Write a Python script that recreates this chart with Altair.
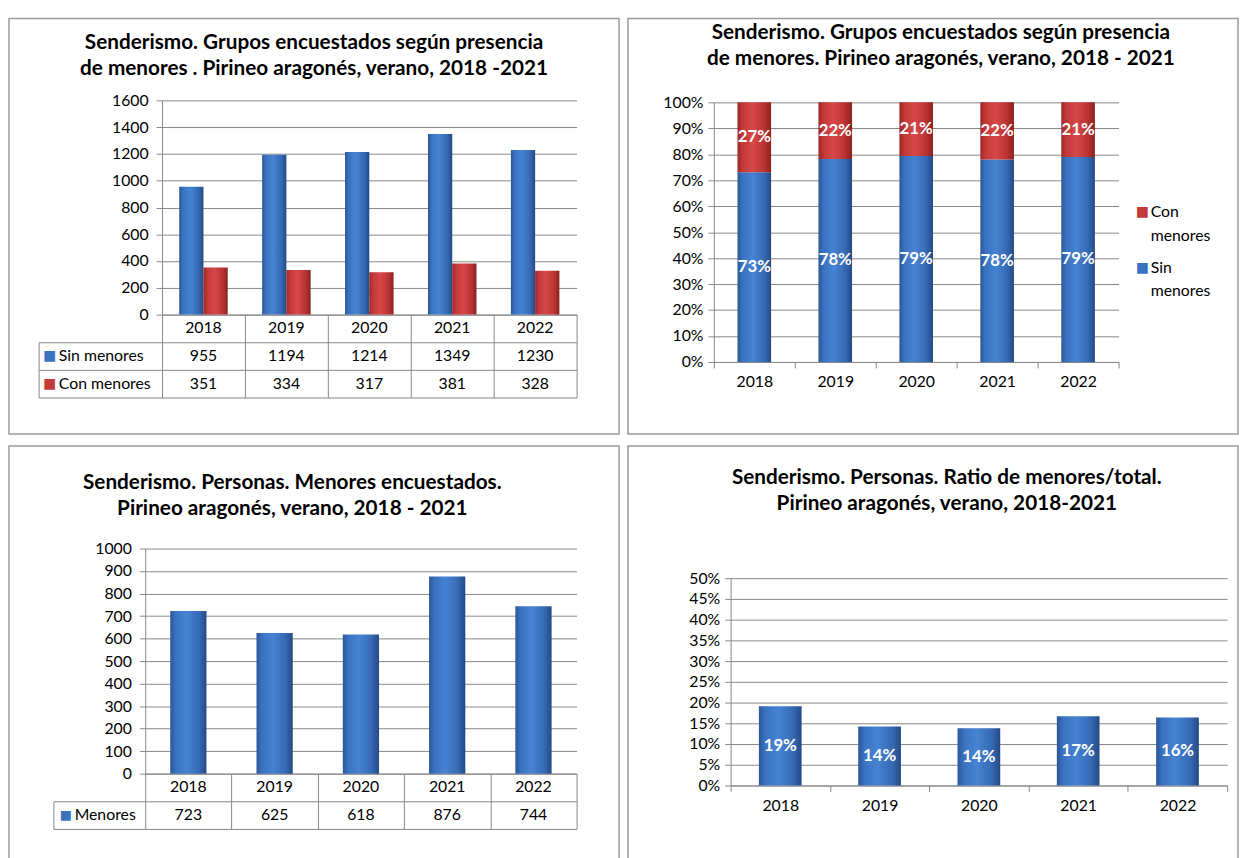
import altair as alt
import pandas as pd

# ---------------- data ----------------
years = ["2018", "2019", "2020", "2021", "2022"]
sin_menores = [955, 1194, 1214, 1349, 1230]
con_menores = [351, 334, 317, 381, 328]
menores = [723, 625, 618, 876, 744]
ratio_menores = [0.191, 0.142, 0.138, 0.167, 0.164]
series_names = ["Sin menores", "Con menores"]
legend_order = ["Con menores", "Sin menores"]
serie_menores = ["Menores"]

titulo1 = ["Senderismo. Grupos encuestados según presencia",
           "de menores . Pirineo aragonés, verano, 2018  -2021"]
titulo2 = ["Senderismo. Grupos encuestados según presencia",
           "de menores. Pirineo aragonés, verano, 2018  - 2021"]
titulo3 = ["Senderismo. Personas. Menores encuestados.",
           "Pirineo aragonés, verano, 2018  - 2021"]
titulo4 = ["Senderismo. Personas. Ratio de menores/total.",
           "Pirineo aragonés, verano, 2018-2021"]

# ---------------- style ----------------
FONT = "Lato"
GRID = "#868686"
BLUE = "#3a72c0"
RED = "#c43a3a"
W, H = 618, 421
LFS = 16  # label font size


def grad(stops):
    return alt.LinearGradient(
        gradient="linear", x1=0, x2=1, y1=0, y2=0,
        stops=[alt.GradientStop(offset=o, color=c) for o, c in stops])


BLUE_GRAD = grad([(0, "#2b5797"), (0.15, "#3a72c0"), (0.45, "#4683d3"),
                  (0.8, "#3669b3"), (1, "#244a85")])
RED_GRAD = grad([(0, "#9c2626"), (0.15, "#c23838"), (0.45, "#d84848"),
                 (0.8, "#b83232"), (1, "#8c2020")])

grupos = pd.DataFrame({
    "year": years * 2,
    "serie": [series_names[0]] * len(years) + [series_names[1]] * len(years),
    "value": sin_menores + con_menores,
    "orden": [0] * len(years) + [1] * len(years),
})
personas = pd.DataFrame({"year": years, "serie": serie_menores * len(years), "value": menores})
ratio = pd.DataFrame({"year": years, "value": ratio_menores})


def title(lines, offset, dx=0):
    return alt.TitleParams(text=lines, offset=offset, dx=dx, anchor="middle",
                           baseline="top", frame="group", font=FONT,
                           fontSize=21, fontWeight="bold", color="black",
                           lineHeight=26)


def xs(r):
    return alt.Scale(type="band", domain=years, range=r, paddingInner=0, paddingOuter=0)


# ============ Panel 1 ============
x1 = xs([155, 575])
y1 = alt.Scale(domain=[0, 1600], range=[300, 83], nice=False)
rows1 = alt.Scale(type="band", domain=series_names, range=[328, 384], paddingInner=0, paddingOuter=0)
xoff1 = alt.Scale(domain=series_names, paddingInner=0, paddingOuter=0.71)
b1 = alt.Chart(grupos)

p1_sin = b1.transform_filter(alt.datum.serie == series_names[0]).mark_bar(color=BLUE_GRAD).encode(
    x=alt.X("year:N", scale=x1, axis=alt.Axis(orient="bottom", offset=300 - H, title=None, labels=False,
                                               domainColor=GRID, tickColor=GRID, tickBand="extent",
                                               tickSize=84, grid=False)),
    xOffset=alt.XOffset("serie:N", scale=xoff1),
    y=alt.Y("value:Q", scale=y1, axis=alt.Axis(orient="left", offset=-155, title=None, format="d",
                                                values=list(range(0, 1601, 200)), grid=True,
                                                gridColor=GRID, domainColor=GRID, tickColor=GRID,
                                                tickSize=6, labelPadding=8, labelOverlap=False)),
)
p1_con = b1.transform_filter(alt.datum.serie == series_names[1]).mark_bar(color=RED_GRAD).encode(
    x=alt.X("year:N", scale=x1, axis=None),
    xOffset=alt.XOffset("serie:N", scale=xoff1),
    y=alt.Y("value:Q", scale=y1, axis=None),
)
p1_tab = b1.mark_text(fontSize=LFS, color="black", font=FONT).encode(
    x=alt.X("year:N", scale=x1, axis=alt.Axis(orient="bottom", offset=300 - H, title=None, ticks=False,
                                               domain=False, grid=False, labelPadding=5, labelAngle=0)),
    y=alt.Y("serie:N", scale=rows1, axis=alt.Axis(orient="left", offset=-155, title=None, labels=False,
                                                   domain=False, tickBand="extent", tickSize=125,
                                                   tickColor=GRID, grid=True, gridColor=GRID)),
    text=alt.Text("value:Q", format="d"),
)
p1_sw = b1.mark_point(opacity=0).encode(
    x=alt.X("year:N", scale=x1, axis=None),
    y=alt.Y("serie:N", scale=rows1, axis=alt.Axis(
        orient="right", offset=30 - W, title=None, domain=True, domainColor=GRID, ticks=False,
        grid=False, labelExpr="'■'", labelFont="DejaVu Sans", labelFontSize=14, labelPadding=4,
        labelColor=alt.condition("datum.value == 'Sin menores'", alt.value(BLUE), alt.value(RED)))),
)
p1_lab = b1.mark_point(opacity=0).encode(
    x=alt.X("year:N", scale=x1, axis=None),
    y=alt.Y("serie:N", scale=rows1, axis=alt.Axis(orient="right", offset=30 - W, title=None,
                                                   domain=False, ticks=False, grid=False,
                                                   labelPadding=20, labelLimit=200)),
)
p1 = alt.layer(p1_sin, p1_con, p1_tab, p1_sw, p1_lab).resolve_scale(y="independent").resolve_axis(
    x="independent", y="independent").properties(width=W, height=H, title=title(titulo1, -61))

# ============ Panel 2 ============
x2 = xs([87, 497])
y2 = alt.Scale(domain=[0, 1], range=[348, 85], nice=False)
leg2 = alt.Scale(type="point", domain=legend_order, range=[196, 252], padding=0)
b2 = alt.Chart(grupos).transform_stack(
    stack="value", groupby=["year"], as_=["y0", "y1"], offset="normalize",
    sort=[alt.SortField("orden", order="ascending")]
).transform_calculate(ymid="(datum.y0 + datum.y1) / 2", pct="datum.y1 - datum.y0")

p2_sin = b2.transform_filter(alt.datum.serie == series_names[0]).mark_bar(
    color=BLUE_GRAD, width=alt.RelativeBandSize(0.415)).encode(
    x=alt.X("year:N", scale=x2, axis=alt.Axis(orient="bottom", offset=348 - H, title=None,
                                               domainColor=GRID, tickColor=GRID, tickBand="extent",
                                               tickSize=6, grid=False, labelPadding=6, labelAngle=0)),
    y=alt.Y("y0:Q", scale=y2, axis=alt.Axis(orient="left", offset=-87, title=None, format=".0%",
                                             values=[i / 10 for i in range(11)], grid=True,
                                             gridColor=GRID, domainColor=GRID, tickColor=GRID,
                                             tickSize=6, labelPadding=5, labelOverlap=False)),
    y2="y1:Q",
)
p2_con = b2.transform_filter(alt.datum.serie == series_names[1]).mark_bar(
    color=RED_GRAD, width=alt.RelativeBandSize(0.415)).encode(
    x=alt.X("year:N", scale=x2, axis=None),
    y=alt.Y("y0:Q", scale=y2, axis=None),
    y2="y1:Q",
)
p2_txt = b2.mark_text(color="white", fontWeight="bold", fontSize=17, font=FONT).encode(
    x=alt.X("year:N", scale=x2, axis=None),
    y=alt.Y("ymid:Q", scale=y2, axis=None),
    text=alt.Text("pct:Q", format=".0%"),
)
p2_sw = b2.mark_point(opacity=0).encode(
    x=alt.X("year:N", scale=x2, axis=None),
    y=alt.Y("serie:N", scale=leg2, axis=alt.Axis(
        orient="right", offset=514 - W, title=None, domain=False, ticks=False, grid=False,
        labelExpr="'■'", labelFont="DejaVu Sans", labelFontSize=14, labelPadding=0,
        labelColor=alt.condition("datum.value == 'Sin menores'", alt.value(BLUE), alt.value(RED)))),
)
p2_lab = b2.mark_point(opacity=0).encode(
    x=alt.X("year:N", scale=x2, axis=None),
    y=alt.Y("serie:N", scale=leg2, axis=alt.Axis(
        orient="right", offset=514 - W, title=None, domain=False, ticks=False, grid=False,
        labelPadding=15, labelExpr="split(datum.label, ' ')", labelLineHeight=24,
        labelBaseline="middle", labelOffset=0)),
)
p2 = alt.layer(p2_sin, p2_con, p2_txt, p2_sw, p2_lab).resolve_scale(y="independent").resolve_axis(
    x="independent", y="independent").properties(width=W, height=H, title=title(titulo2, -51, 8))

# ============ Panel 3 ============
x3 = xs([138, 575])
y3 = alt.Scale(domain=[0, 1000], range=[332, 104], nice=False)
rows3 = alt.Scale(type="band", domain=serie_menores, range=[360, 388], paddingInner=0, paddingOuter=0)
b3 = alt.Chart(personas)

p3_bar = b3.mark_bar(color=BLUE_GRAD, width=alt.RelativeBandSize(0.42)).encode(
    x=alt.X("year:N", scale=x3, axis=alt.Axis(orient="bottom", offset=332 - H, title=None, labels=False,
                                               domainColor=GRID, tickColor=GRID, tickBand="extent",
                                               tickSize=56, grid=False)),
    y=alt.Y("value:Q", scale=y3, axis=alt.Axis(orient="left", offset=-138, title=None, format="d",
                                                values=list(range(0, 1001, 100)), grid=True,
                                                gridColor=GRID, domainColor=GRID, tickColor=GRID,
                                                tickSize=6, labelPadding=8, labelOverlap=False)),
)
p3_tab = b3.mark_text(fontSize=LFS, color="black", font=FONT).encode(
    x=alt.X("year:N", scale=x3, axis=alt.Axis(orient="bottom", offset=332 - H, title=None, ticks=False,
                                               domain=False, grid=False, labelPadding=5, labelAngle=0)),
    y=alt.Y("serie:N", scale=rows3, axis=alt.Axis(orient="left", offset=-138, title=None, labels=False,
                                                   domain=False, tickBand="extent", tickSize=93,
                                                   tickColor=GRID, grid=True, gridColor=GRID)),
    text=alt.Text("value:Q", format="d"),
)
p3_sw = b3.mark_point(opacity=0).encode(
    x=alt.X("year:N", scale=x3, axis=None),
    y=alt.Y("serie:N", scale=rows3, axis=alt.Axis(
        orient="right", offset=45 - W, title=None, domain=True, domainColor=GRID, ticks=False,
        grid=False, labelExpr="'■'", labelFont="DejaVu Sans", labelFontSize=13, labelPadding=6,
        labelColor=BLUE)),
)
p3_lab = b3.mark_point(opacity=0).encode(
    x=alt.X("year:N", scale=x3, axis=None),
    y=alt.Y("serie:N", scale=rows3, axis=alt.Axis(orient="right", offset=45 - W, title=None,
                                                   domain=False, ticks=False, grid=False,
                                                   labelPadding=21, labelLimit=200)),
)
p3 = alt.layer(p3_bar, p3_tab, p3_sw, p3_lab).resolve_scale(y="independent").resolve_axis(
    x="independent", y="independent").properties(width=W, height=H, title=title(titulo3, -74, -22))

# ============ Panel 4 ============
x4 = xs([104, 607])
y4 = alt.Scale(domain=[0, 0.5], range=[344, 134], nice=False)
b4 = alt.Chart(ratio).transform_calculate(mid="datum.value / 2")

p4_bar = b4.mark_bar(color=BLUE_GRAD, width=alt.RelativeBandSize(0.43)).encode(
    x=alt.X("year:N", scale=x4, axis=alt.Axis(orient="bottom", offset=344 - H, title=None,
                                               domainColor=GRID, tickColor=GRID, tickBand="extent",
                                               tickSize=6, grid=False, labelPadding=6, labelAngle=0)),
    y=alt.Y("value:Q", scale=y4, axis=alt.Axis(orient="left", offset=-104, title=None, format=".0%",
                                                values=[i / 20 for i in range(11)], grid=True,
                                                gridColor=GRID, domainColor=GRID, tickColor=GRID,
                                                tickSize=6, labelPadding=5, labelOverlap=False)),
)
p4_txt = b4.mark_text(color="white", fontWeight="bold", fontSize=17, font=FONT).encode(
    x=alt.X("year:N", scale=x4, axis=None),
    y=alt.Y("mid:Q", scale=y4, axis=None),
    text=alt.Text("value:Q", format=".0%"),
)
p4 = alt.layer(p4_bar, p4_txt).resolve_axis(x="independent", y="independent").properties(
    width=W, height=H, title=title(titulo4, -69, 14))

chart = alt.vconcat(
    alt.hconcat(p1, p2, spacing=7),
    alt.hconcat(p3, p4, spacing=7),
    spacing=10,
).properties(
    padding={"left": 0, "top": 4, "right": 0, "bottom": 0}
).configure(font=FONT).configure_view(
    stroke="#9b9b9b", strokeWidth=1.5
).configure_axis(
    labelFont=FONT, labelFontSize=LFS, labelColor="black"
)

chart.save("out.html", embed_options={"renderer": "svg", "actions": False})
